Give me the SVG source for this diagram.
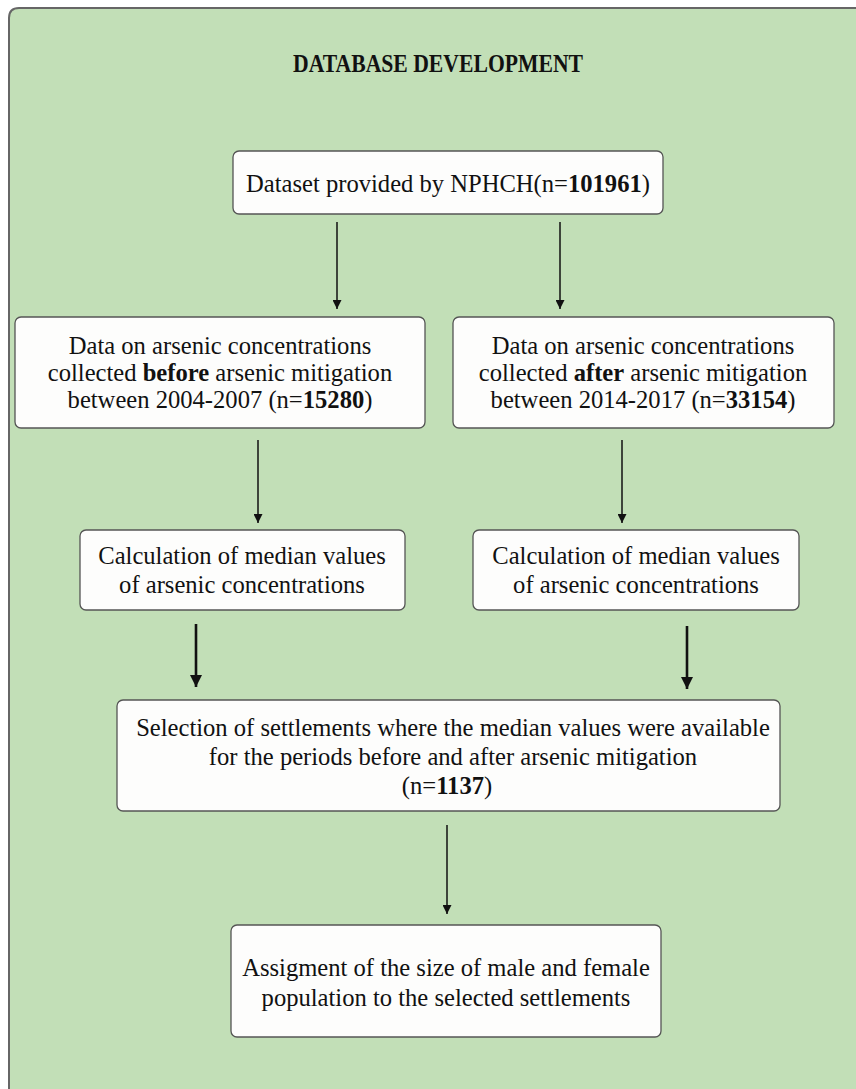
<svg xmlns="http://www.w3.org/2000/svg" width="856" height="1089" viewBox="0 0 856 1089">
<style>
.node rect{fill:#fdfdfc;stroke:#555;stroke-width:1.3}
text{font-family:"Liberation Serif",Tinos,"Times New Roman",serif;font-size:24.6px;fill:#111;text-anchor:middle;font-weight:normal}
.b{font-weight:bold}
.conn line{stroke:#111;stroke-width:1.5}
.conn line.thick{stroke-width:2.6}
</style>
<defs>
<marker id="ah" viewBox="0 0 10 10" refX="10" refY="5" markerWidth="10" markerHeight="9" markerUnits="userSpaceOnUse" orient="auto"><path d="M0,0 L10,5 L0,10 z" fill="#111"/></marker>
<marker id="ah2" viewBox="0 0 10 10" refX="10" refY="5" markerWidth="12" markerHeight="12" markerUnits="userSpaceOnUse" orient="auto"><path d="M0,0 L10,5 L0,10 z" fill="#111"/></marker>
</defs>
<rect width="856" height="1089" fill="#ffffff"/>
<path d="M9,1095 V18 Q9,8 19,8 H870 V1095 Z" fill="#c2dfb7" stroke="#666" stroke-width="2"/>
<text id="title" class="b" x="438" y="72" font-size="22" textLength="290" lengthAdjust="spacingAndGlyphs">DATABASE DEVELOPMENT</text>

<g id="n1" class="node"><rect x="233" y="151" width="430" height="63" rx="6"/>
<text x="448" y="192">Dataset provided by NPHCH(n=<tspan class="b">101961</tspan>)</text></g>

<g id="n2" class="node"><rect x="15" y="317" width="410" height="111" rx="6"/>
<text x="220" y="354">Data on arsenic concentrations</text>
<text x="220" y="381">collected <tspan class="b">before</tspan> arsenic mitigation</text>
<text x="220" y="408">between 2004-2007 (n=<tspan class="b">15280</tspan>)</text></g>

<g id="n3" class="node"><rect x="453" y="317" width="381" height="111" rx="6"/>
<text x="643" y="354">Data on arsenic concentrations</text>
<text x="643" y="381">collected <tspan class="b">after</tspan> arsenic mitigation</text>
<text x="643" y="408">between 2014-2017 (n=<tspan class="b">33154</tspan>)</text></g>

<g id="n4" class="node"><rect x="80" y="530" width="325" height="80" rx="6"/>
<text x="242" y="564">Calculation of median values</text>
<text x="242" y="593">of arsenic concentrations</text></g>

<g id="n5" class="node"><rect x="473" y="530" width="326" height="80" rx="6"/>
<text x="636" y="564">Calculation of median values</text>
<text x="636" y="593">of arsenic concentrations</text></g>

<g id="n6" class="node"><rect x="117" y="700" width="663" height="111" rx="6"/>
<text x="453" y="736">Selection of settlements where the median values were available</text>
<text x="453" y="765">for the periods before and after arsenic mitigation</text>
<text x="447" y="794">(n=<tspan class="b">1137</tspan>)</text></g>

<g id="n7" class="node"><rect x="231" y="925" width="430" height="112" rx="6"/>
<text x="446" y="976">Assigment of the size of male and female</text>
<text x="446" y="1006">population to the selected settlements</text></g>

<g id="connectors" class="conn">
<line x1="337" y1="222" x2="337" y2="309" marker-end="url(#ah)"/>
<line x1="560" y1="222" x2="560" y2="309" marker-end="url(#ah)"/>
<line x1="258" y1="440" x2="258" y2="523" marker-end="url(#ah)"/>
<line x1="622" y1="440" x2="622" y2="523" marker-end="url(#ah)"/>
<line class="thick" x1="196" y1="624" x2="196" y2="687" marker-end="url(#ah2)"/>
<line class="thick" x1="687" y1="626" x2="687" y2="689" marker-end="url(#ah2)"/>
<line x1="447" y1="825" x2="447" y2="914" marker-end="url(#ah)"/>
</g>
</svg>
